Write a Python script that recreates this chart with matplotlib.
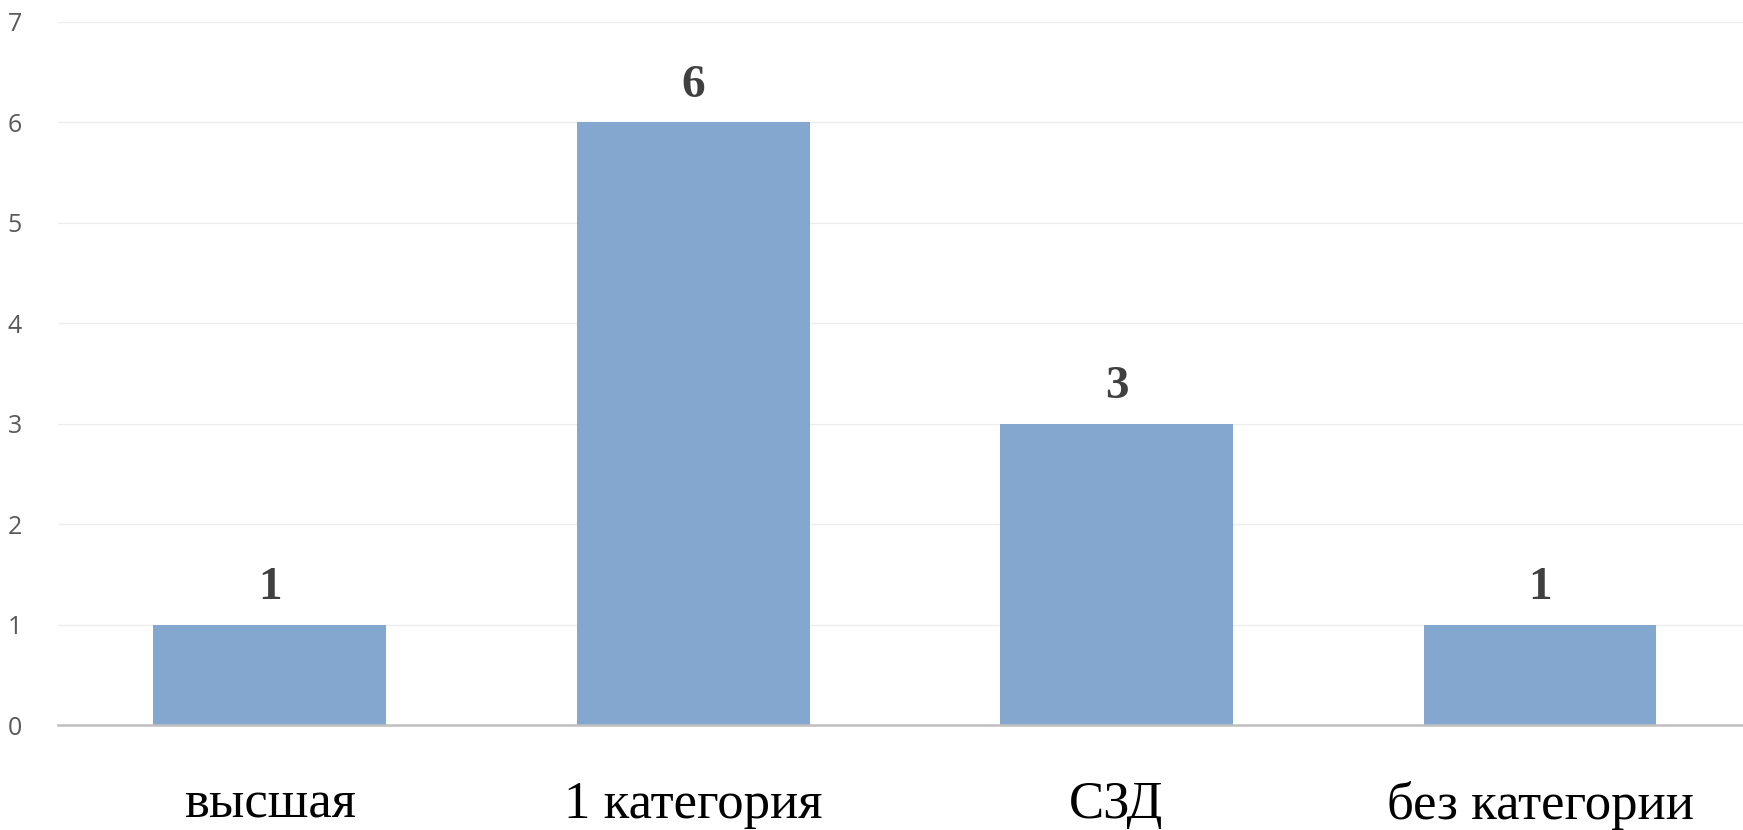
import matplotlib.pyplot as plt
import numpy as np

# data
categories = ["высшая", "1 категория", "СЗД", "без категории"]
counts = [1, 6, 3, 1]
y_ticks = [0, 1, 2, 3, 4, 5, 6, 7]

fig = plt.figure(figsize=(17.43, 8.30), dpi=100)
ax = fig.add_axes([0.0333, 0.1265, 0.9717, 0.847])

x = np.arange(len(categories))
bars = ax.bar(x, counts, width=0.55, color="#84A7D0", zorder=2)

ax.set_xlim(-0.5, len(categories) - 0.5)
ax.set_ylim(0, 7)
ax.set_yticks(y_ticks)
ax.set_yticklabels([str(t) for t in y_ticks], fontfamily="Open Sans",
                   fontsize=18, color="#595959")
ax.tick_params(axis="y", length=0, pad=26)

ax.set_xticks(x)
ax.set_xticklabels(categories, fontfamily="Liberation Serif", fontsize=38, color="black")
ax.tick_params(axis="x", length=0, pad=40)

ax.grid(axis="y", color="#EDEDED", linewidth=1.0, zorder=0)
for s in ["top", "right", "left"]:
    ax.spines[s].set_visible(False)
ax.spines["bottom"].set_color("#BFBFBF")
ax.spines["bottom"].set_linewidth(1.8)
ax.spines["bottom"].set_zorder(3)

# value labels above bars
for b, v in zip(bars, counts):
    ax.annotate(str(v), (b.get_x() + b.get_width() / 2, v), xytext=(0, 11),
                textcoords="offset points", ha="center", va="bottom",
                fontfamily="Liberation Serif", fontweight="bold",
                fontsize=34, color="#404040")

fig.savefig("out.png", dpi=100)
